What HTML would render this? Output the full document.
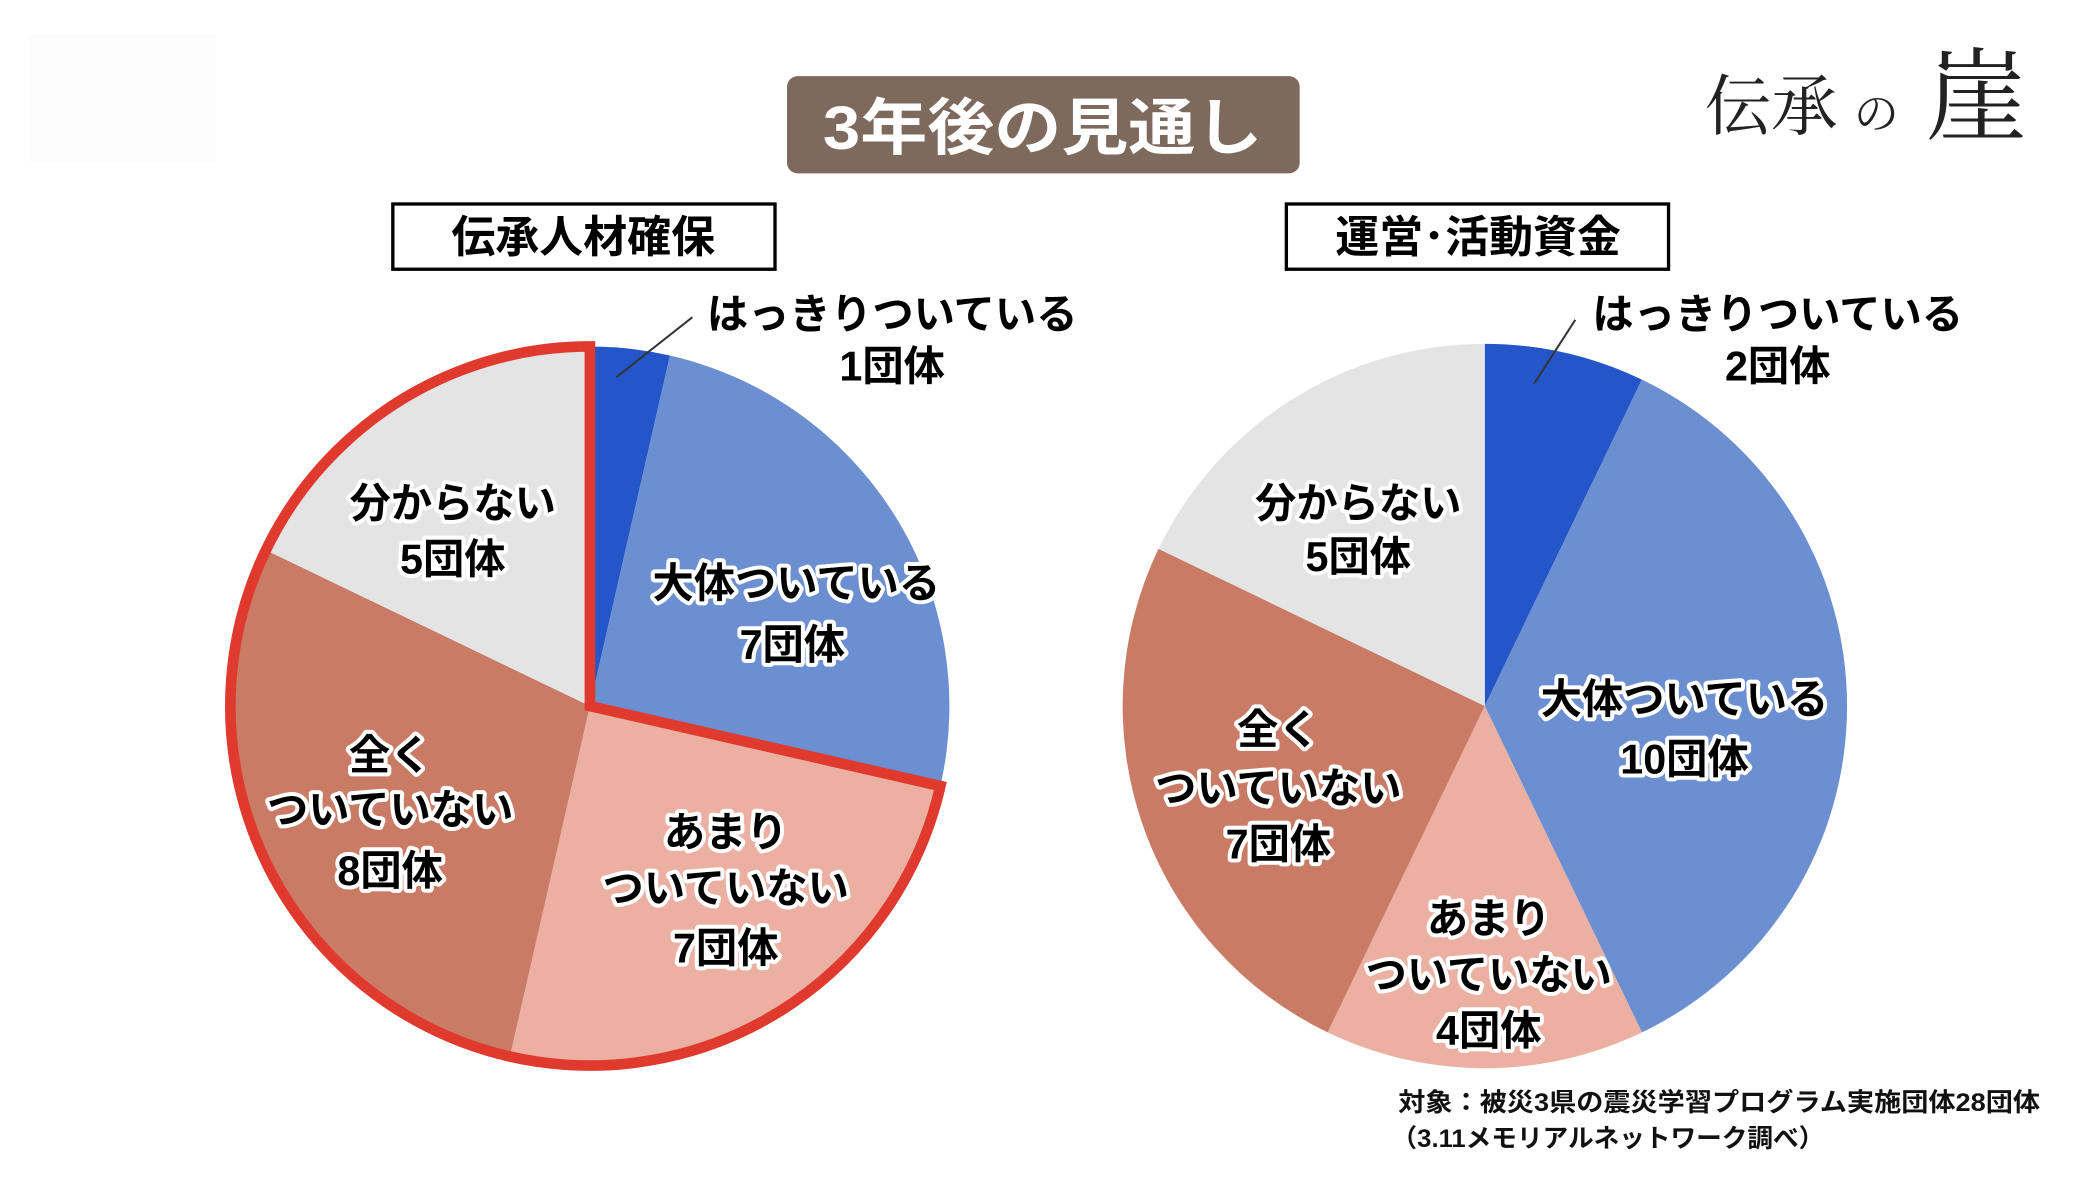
<!DOCTYPE html>
<html><head><meta charset="utf-8"><style>
html,body{margin:0;padding:0;background:#fff;}
svg{display:block;}
.lb{font-family:"Liberation Sans","Noto Sans CJK JP",sans-serif;font-weight:bold;font-size:31px;fill:#000;stroke:#fff;stroke-width:6px;paint-order:stroke;stroke-linejoin:round;text-anchor:middle;dominant-baseline:central;}
</style></head><body>
<svg width="2088" height="1179" viewBox="0 0 1568 885" xmlns="http://www.w3.org/2000/svg">
<rect width="1568" height="885" fill="#fff"/>
<rect x="22" y="26" width="140" height="96" fill="#fcfcfc"/>
<!-- title -->
<rect x="591" y="57" width="385" height="73" rx="8" fill="#7d6a5c"/>
<text x="783" y="96" fill="#fff" font-family="'Liberation Sans','Noto Sans CJK JP',sans-serif" font-weight="bold" font-size="46" text-anchor="middle" dominant-baseline="central" textLength="330" lengthAdjust="spacingAndGlyphs">3年後の見通し</text>
<!-- logo -->
<text font-family="'Noto Serif CJK SC','Liberation Serif',serif" fill="#222"><tspan x="1280" y="97" font-size="50">伝承</tspan><tspan x="1392" y="97" font-size="34">の</tspan><tspan x="1446" y="99" font-size="76">崖</tspan></text>
<!-- subtitle boxes -->
<rect x="295" y="153" width="287" height="49" fill="#fff" stroke="#000" stroke-width="2.5"/>
<text x="438" y="178" font-family="'Liberation Sans','Noto Sans CJK JP',sans-serif" font-weight="bold" font-size="33" text-anchor="middle" dominant-baseline="central">伝承人材確保</text>
<rect x="966" y="153" width="287" height="49" fill="#fff" stroke="#000" stroke-width="2.5"/>
<text x="1110" y="178" font-family="'Liberation Sans','Noto Sans CJK JP',sans-serif" font-weight="bold" font-size="33" text-anchor="middle" dominant-baseline="central">運営･活動資金</text>
<!-- left pie -->
<path d="M443,530 L443,260 A270,270 0 0 1 503.1,266.8 Z" fill="#2456c9"/>
<path d="M443,530 L503.1,266.8 A270,270 0 0 1 706.2,590.1 Z" fill="#6b8fd0"/>
<path d="M443,530 L706.2,590.1 A270,270 0 0 1 382.9,793.2 Z" fill="#ecb0a2"/>
<path d="M443,530 L382.9,793.2 A270,270 0 0 1 199.7,412.9 Z" fill="#c97b66"/>
<path d="M443,530 L199.7,412.9 A270,270 0 0 1 443,260 Z" fill="#e4e4e4"/>
<path d="M443,530 L706.2,590.1 A270,270 0 1 1 443,260 Z" fill="none" stroke="#e03a2e" stroke-width="8" stroke-linejoin="miter"/>
<!-- right pie -->
<path d="M1115,530 L1115,258 A272,272 0 0 1 1233,284.9 Z" fill="#2456c9"/>
<path d="M1115,530 L1233,284.9 A272,272 0 0 1 1233,775.1 Z" fill="#6b8fd0"/>
<path d="M1115,530 L1233,775.1 A272,272 0 0 1 997,775.1 Z" fill="#ecb0a2"/>
<path d="M1115,530 L997,775.1 A272,272 0 0 1 870,412 Z" fill="#c97b66"/>
<path d="M1115,530 L870,412 A272,272 0 0 1 1115,258 Z" fill="#e4e4e4"/>
<!-- leader lines -->
<line x1="463" y1="283" x2="520" y2="238" stroke="#333" stroke-width="1.5"/>
<line x1="1152" y1="288" x2="1183" y2="240" stroke="#333" stroke-width="1.5"/>
<!-- left labels -->
<text class="lb" x="670" y="236">はっきりついている</text>
<text class="lb" x="670" y="275">1団体</text>
<text class="lb" x="340" y="378">分からない</text>
<text class="lb" x="340" y="420">5団体</text>
<text class="lb" x="598" y="438">大体ついている</text>
<text class="lb" x="595" y="484">7団体</text>
<text class="lb" x="545" y="625">あまり</text>
<text class="lb" x="545" y="667">ついていない</text>
<text class="lb" x="545" y="712">7団体</text>
<text class="lb" x="293" y="567">全く</text>
<text class="lb" x="293" y="608">ついていない</text>
<text class="lb" x="293" y="654">8団体</text>
<!-- right labels -->
<text class="lb" x="1335" y="236">はっきりついている</text>
<text class="lb" x="1335" y="275">2団体</text>
<text class="lb" x="1020" y="378">分からない</text>
<text class="lb" x="1020" y="418">5団体</text>
<text class="lb" x="1265" y="525">大体ついている</text>
<text class="lb" x="1265" y="570">10団体</text>
<text class="lb" x="960" y="548">全く</text>
<text class="lb" x="960" y="592">ついていない</text>
<text class="lb" x="960" y="634">7団体</text>
<text class="lb" x="1118" y="690">あまり</text>
<text class="lb" x="1118" y="732">ついていない</text>
<text class="lb" x="1118" y="774">4団体</text>
<!-- footer -->
<text x="1050" y="828" font-family="'Liberation Sans','Noto Sans CJK JP',sans-serif" font-weight="bold" font-size="19" fill="#111" dominant-baseline="central" textLength="482" lengthAdjust="spacingAndGlyphs">対象：被災3県の震災学習プログラム実施団体28団体</text>
<text x="1045" y="855" font-family="'Liberation Sans','Noto Sans CJK JP',sans-serif" font-weight="bold" font-size="19" fill="#111" dominant-baseline="central" textLength="325" lengthAdjust="spacingAndGlyphs">（3.11メモリアルネットワーク調べ）</text>
</svg>
</body></html>
